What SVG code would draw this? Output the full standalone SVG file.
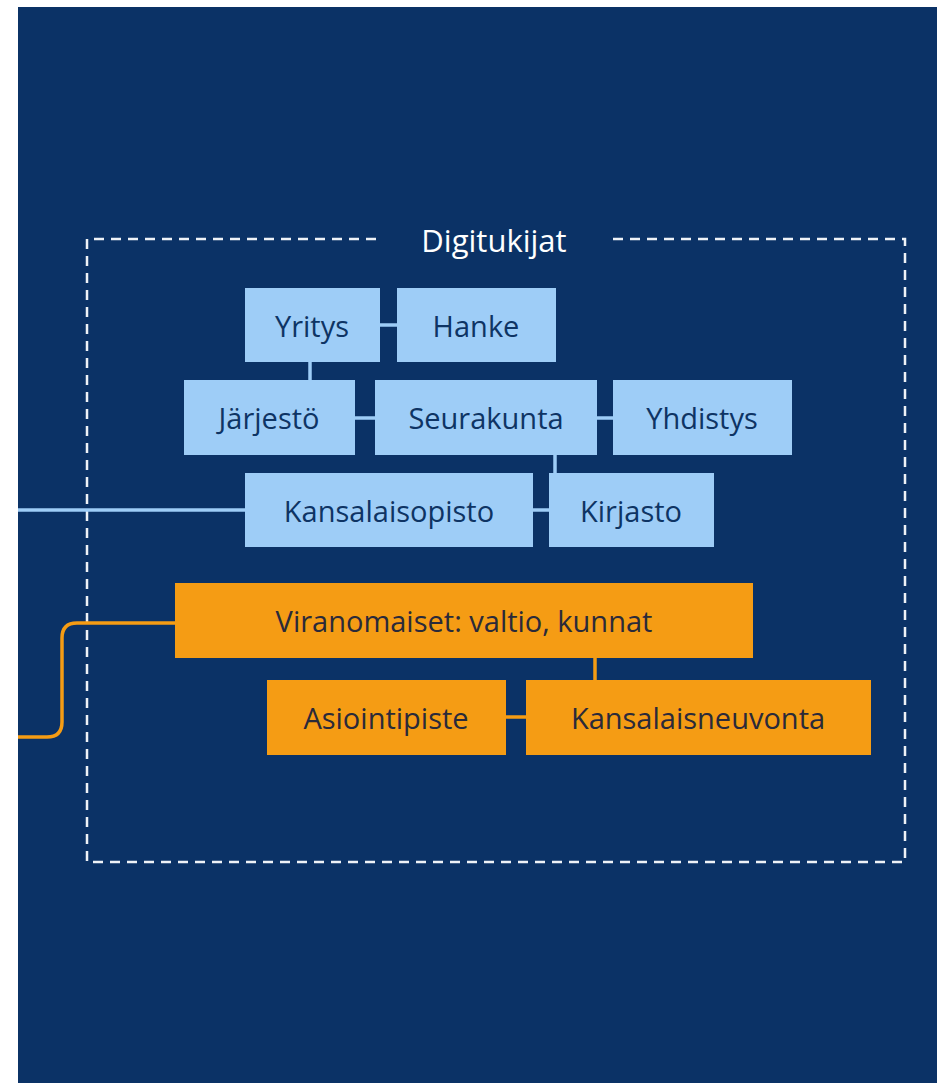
<svg xmlns="http://www.w3.org/2000/svg" width="937" height="1083" viewBox="0 0 937 1083">
<style>
.bg{fill:#0b3266}
.lb rect{fill:#9ecdf7}
.or rect{fill:#f59c14}
.lb text{fill:#0e3464}
.or text{fill:#2a2a3a}
text{font-family:"Open Sans","Noto Sans",sans-serif;font-size:29px;text-anchor:middle;dominant-baseline:central}
.cb{stroke:#9ecdf7;stroke-width:3.5;fill:none}
.co{stroke:#f59c14;stroke-width:3.5;fill:none}
.dash{stroke:#eef2f7;stroke-width:2.5;fill:none;stroke-dasharray:10 7}
</style>
<rect x="0" y="0" width="937" height="1083" fill="#ffffff"/>
<rect class="bg" x="18" y="7" width="919" height="1076"/>
<g id="frame">
<path class="dash" d="M376 239 H87 V862 H905 V239 H612"/>
<text x="494" y="240" fill="#ffffff" style="font-size:31px">Digitukijat</text>
</g>
<g id="connectors">
<path class="cb" d="M18 510 H245"/>
<path class="cb" d="M380 325 H397"/>
<path class="cb" d="M310 362 V380"/>
<path class="cb" d="M355 418 H375"/>
<path class="cb" d="M597 418 H613"/>
<path class="cb" d="M555 455 V473"/>
<path class="cb" d="M533 510 H549"/>
<path class="co" d="M18 737 H47 Q62 737 62 722 V638 Q62 623 77 623 H175"/>
<path class="co" d="M595 658 V680"/>
<path class="co" d="M506 717 H526"/>
</g>
<g id="yritys" class="lb"><rect x="245" y="288" width="135" height="74"/><text x="312" y="325">Yritys</text></g>
<g id="hanke" class="lb"><rect x="397" y="288" width="159" height="74"/><text x="476" y="325">Hanke</text></g>
<g id="jarjesto" class="lb"><rect x="184" y="380" width="171" height="75"/><text x="269" y="417">Järjestö</text></g>
<g id="seurakunta" class="lb"><rect x="375" y="380" width="222" height="75"/><text x="486" y="417">Seurakunta</text></g>
<g id="yhdistys" class="lb"><rect x="613" y="380" width="179" height="75"/><text x="702" y="417">Yhdistys</text></g>
<g id="kansalaisopisto" class="lb"><rect x="245" y="473" width="288" height="74"/><text x="389" y="510">Kansalaisopisto</text></g>
<g id="kirjasto" class="lb"><rect x="549" y="473" width="165" height="74"/><text x="631" y="510">Kirjasto</text></g>
<g id="viranomaiset" class="or"><rect x="175" y="583" width="578" height="75"/><text x="464" y="620">Viranomaiset: valtio, kunnat</text></g>
<g id="asiointipiste" class="or"><rect x="267" y="680" width="239" height="75"/><text x="386" y="717">Asiointipiste</text></g>
<g id="kansalaisneuvonta" class="or"><rect x="526" y="680" width="345" height="75"/><text x="698" y="717">Kansalaisneuvonta</text></g>
</svg>
